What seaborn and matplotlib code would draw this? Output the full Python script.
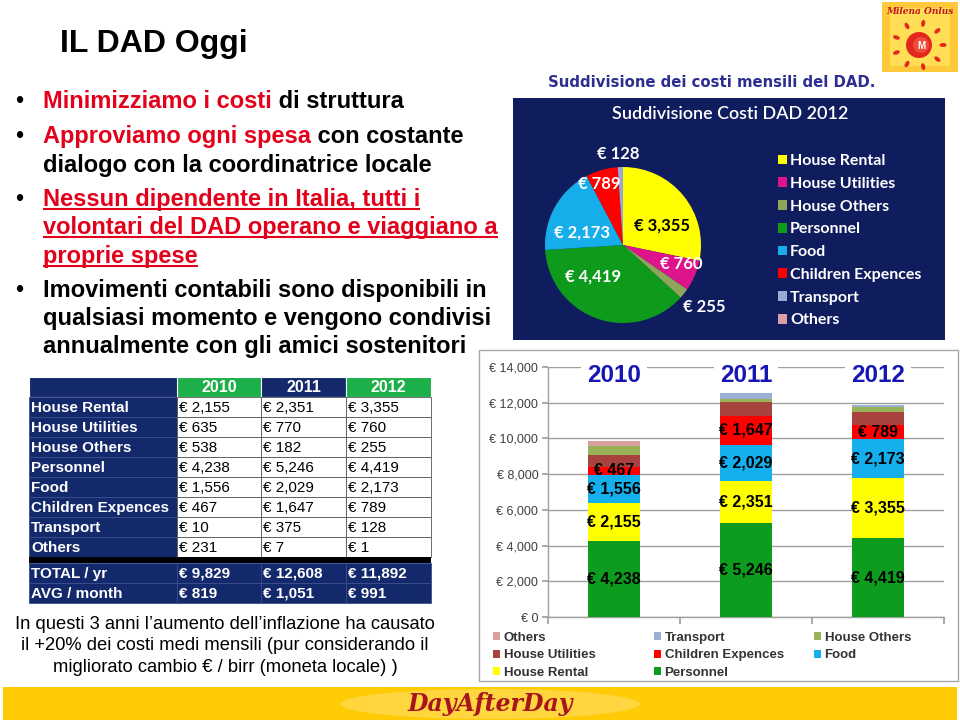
import numpy as np
import pandas as pd
import matplotlib
matplotlib.use("Agg")
import matplotlib.pyplot as plt
import seaborn as sns
from matplotlib.patches import Rectangle, Circle, Ellipse, Patch

# ---------------- data ----------------
categories = ["House Rental", "House Utilities", "House Others", "Personnel",
              "Food", "Children Expences", "Transport", "Others"]
years = ["2010", "2011", "2012"]
cost_2010 = [2155, 635, 538, 4238, 1556, 467, 10, 231]
cost_2011 = [2351, 770, 182, 5246, 2029, 1647, 375, 7]
cost_2012 = [3355, 760, 255, 4419, 2173, 789, 128, 1]
total_yr = [9829, 12608, 11892]
avg_month = [819, 1051, 991]
y_ticks = [0, 2000, 4000, 6000, 8000, 10000, 12000, 14000]
stack_order = ["Personnel", "House Rental", "Food", "Children Expences",
               "House Utilities", "House Others", "Transport", "Others"]
labelled_layers = ["Personnel", "House Rental", "Food", "Children Expences"]
legend_columns = [["Others", "House Utilities", "House Rental"],
                  ["Transport", "Children Expences", "Personnel"],
                  ["House Others", "Food"]]

# ---------------- styles ----------------
bar_colors = {"Personnel": "#0E9C1E", "House Rental": "#FFFF00", "Food": "#14AFEC",
              "Children Expences": "#FF0000", "House Utilities": "#A8423F",
              "House Others": "#98B357", "Transport": "#9AB0D5", "Others": "#D9A09E"}
pie_colors = {"House Rental": "#FFFF00", "House Utilities": "#DD148C", "House Others": "#8FA65A",
              "Personnel": "#0E9A1A", "Food": "#16AEEA", "Children Expences": "#FF0000",
              "Transport": "#9AAAD6", "Others": "#D8A0A0"}
# label placement relative to wedge: (radius factor, angle offset deg, color)
pie_label_style = {"House Rental": (0.56, -13, "black"), "House Utilities": (0.79, 5, "white"),
                   "House Others": (1.31, 1.5, "white"), "Personnel": (0.56, -24, "white"),
                   "Food": (0.55, 13, "white"), "Children Expences": (0.84, 5, "white"),
                   "Transport": (1.17, 1, "white")}
NAVY = "#14296B"
PIE_BG = "#0F1D5E"
GREEN_HDR = "#1DB04A"
RED = "#E2001A"

sns.set_theme(style="white")
plt.rcParams["font.family"] = ["Liberation Sans", "DejaVu Sans"]

W, H = 960, 720
fig = plt.figure(figsize=(9.6, 7.2), dpi=100)
fig.patch.set_facecolor("white")


def fx(x):
    return x / W


def fy(y):
    return 1 - y / H


# background axes in pixel coordinates
bg = fig.add_axes([0, 0, 1, 1])
bg.set_xlim(0, W)
bg.set_ylim(H, 0)
bg.axis("off")
renderer = fig.canvas.get_renderer()

# ---- title ----
bg.text(60, 52, "IL DAD Oggi", fontsize=23, fontweight="bold", color="black", va="baseline")

# ---- bullets ----
bullet_lines = [
    (108, True, [("Minimizziamo i costi", RED, False), (" di struttura", "black", False)]),
    (143, True, [("Approviamo ogni spesa", RED, False), (" con costante", "black", False)]),
    (172, False, [("dialogo con la coordinatrice locale", "black", False)]),
    (206, True, [("Nessun dipendente in Italia, tutti i", RED, True)]),
    (234, False, [("volontari del DAD operano e viaggiano a", RED, True)]),
    (263, False, [("proprie spese", RED, True)]),
    (297, True, [("Imovimenti contabili sono disponibili in", "black", False)]),
    (325, False, [("qualsiasi momento e vengono condivisi", "black", False)]),
    (353, False, [("annualmente con gli amici sostenitori", "black", False)]),
]
FS_B = 17
for yb, has_bullet, pieces in bullet_lines:
    if has_bullet:
        bg.text(15, yb, "•", fontsize=FS_B, color="black", va="baseline")
    x = 43
    for s, c, und in pieces:
        t = bg.text(x, yb, s, fontsize=FS_B, fontweight="bold", color=c, va="baseline")
        w = t.get_window_extent(renderer).width
        if und:
            bg.plot([x, x + w], [yb + 3, yb + 3], color=c, lw=1.5, solid_capstyle="butt")
        x += w

# ---- table ----
col_x = [29, 177, 261, 346, 431]
hdr_top, hdr_bot = 377, 397
row_h = 20
for j, yr in enumerate(years):
    fc = GREEN_HDR if j != 1 else NAVY
    bg.add_patch(Rectangle((col_x[j + 1], hdr_top), col_x[j + 2] - col_x[j + 1], hdr_bot - hdr_top,
                           facecolor=fc, edgecolor="white", lw=0.8))
    bg.text((col_x[j + 1] + col_x[j + 2]) / 2, (hdr_top + hdr_bot) / 2 + 1, yr, color="white",
            fontsize=11.5, fontweight="bold", ha="center", va="center")
bg.add_patch(Rectangle((col_x[0], hdr_top), col_x[1] - col_x[0], hdr_bot - hdr_top,
                       facecolor=NAVY, edgecolor="white", lw=0.8))
year_vals = [cost_2010, cost_2011, cost_2012]
for i, cat in enumerate(categories):
    y0 = hdr_bot + i * row_h
    bg.add_patch(Rectangle((col_x[0], y0), col_x[1] - col_x[0], row_h,
                           facecolor=NAVY, edgecolor="#3a4f8f", lw=0.6))
    bg.text(col_x[0] + 2, y0 + row_h / 2 + 1, cat, color="white", fontsize=11,
            fontweight="bold", va="center")
    for j in range(3):
        bg.add_patch(Rectangle((col_x[j + 1], y0), col_x[j + 2] - col_x[j + 1], row_h,
                               facecolor="white", edgecolor="#555555", lw=0.6))
        bg.text(col_x[j + 1] + 2, y0 + row_h / 2 + 1, f"€ {year_vals[j][i]:,}", color="black",
                fontsize=11, va="center")
sep_top = hdr_bot + len(categories) * row_h
bg.add_patch(Rectangle((col_x[0], sep_top), col_x[-1] - col_x[0], 6, facecolor="black", lw=0))
for k, (lab, vals) in enumerate([("TOTAL / yr", total_yr), ("AVG / month", avg_month)]):
    y0 = sep_top + 6 + k * row_h
    bg.add_patch(Rectangle((col_x[0], y0), col_x[-1] - col_x[0], row_h, facecolor=NAVY,
                           edgecolor="#3a4f8f", lw=0.6))
    bg.text(col_x[0] + 2, y0 + row_h / 2 + 1, lab, color="white", fontsize=11,
            fontweight="bold", va="center")
    for j in range(3):
        bg.plot([col_x[j + 1], col_x[j + 1]], [y0, y0 + row_h], color="#3a4f8f", lw=0.6)
        bg.text(col_x[j + 1] + 2, y0 + row_h / 2 + 1, f"€ {vals[j]:,}", color="white",
                fontsize=11, fontweight="bold", va="center")

# ---- caption ----
caption = ["In questi 3 anni l\u2019aumento dell\u2019inflazione ha causato",
           "il +20% dei costi medi mensili (pur considerando il",
           "migliorato cambio € / birr (moneta locale) )"]
for k, line in enumerate(caption):
    bg.text(225, 629 + k * 21.5, line, fontsize=13.2, color="black", ha="center", va="baseline")

# ---- pie section ----
bg.text(548, 87, "Suddivisione dei costi mensili del DAD.", fontsize=10.7, fontweight="bold",
        color="#2E2E8F", va="baseline", family=["DejaVu Sans"])
bg.add_patch(Rectangle((513, 98), 432, 242, facecolor=PIE_BG, edgecolor="none"))
bg.text(730, 114, "Suddivisione Costi DAD 2012", fontsize=13, color="white", ha="center",
        va="center", family=["Lato", "DejaVu Sans"], fontweight="semibold")

# ---- bar chart frame ----
bg.add_patch(Rectangle((479, 350), 479, 331, facecolor="white", edgecolor="#A6A6A6", lw=1))

# ---- logo ----
bg.add_patch(Rectangle((882, 2), 76, 70, facecolor="#FFC93C", edgecolor="none"))
bg.add_patch(Rectangle((890, 8), 60, 58, facecolor="#FFDD55", edgecolor="none"))
bg.text(920, 11, "Milena Onlus", fontsize=6.5, color="#C0181E", ha="center", va="center",
        style="italic", fontweight="bold", family=["DejaVu Serif"])
for ang in np.arange(0, 360, 40):
    a = np.deg2rad(ang)
    bg.add_patch(Ellipse((919 + 24 * np.cos(a), 45 - 22 * np.sin(a)), 7, 4, angle=-ang,
                         facecolor="#E2281E", edgecolor="none"))
bg.add_patch(Circle((919, 45), 13, facecolor="#E2281E", edgecolor="none"))
bg.add_patch(Circle((921, 45), 8, facecolor="#F04A3A", edgecolor="none"))
bg.text(921, 46, "M", fontsize=7, color="white", fontweight="bold", ha="center", va="center")

# ---- bottom banner ----
bg.add_patch(Rectangle((3, 687), 954, 33, facecolor="#FFCB05", edgecolor="none"))
bg.add_patch(Ellipse((490, 704), 300, 30, facecolor="#FFDB55", edgecolor="none", alpha=0.7))
bg.text(490, 704, "DayAfterDay", fontsize=17, color="#A8151C", ha="center", va="center",
        style="italic", fontweight="bold", family=["DejaVu Serif"])

# ---------------- stacked bar chart (seaborn) ----------------
ax = fig.add_axes([fx(548), fy(617), fx(944) - fx(548), (617 - 367) / H])
ax.set_facecolor("none")
df = pd.DataFrame({"year": years})
for cat in categories:
    df[cat] = [v[categories.index(cat)] for v in year_vals]
cum = df[stack_order].cumsum(axis=1)
for cat in reversed(stack_order):
    sns.barplot(x=df["year"], y=cum[cat], color=bar_colors[cat], width=0.4, saturation=1,
                linewidth=0, errorbar=None, ax=ax, zorder=3)
for cat in labelled_layers:
    k = stack_order.index(cat)
    prev = cum[stack_order[k - 1]] if k > 0 else pd.Series([0] * 3)
    for i in range(3):
        ax.text(i, prev.iloc[i] + df[cat].iloc[i] / 2, f"€ {df[cat].iloc[i]:,}", ha="center",
                va="center", fontsize=11.5, fontweight="bold", color="black", zorder=5)
ax.set_ylim(0, 14000)
ax.set_xlim(-0.5, 2.5)
ax.set_yticks(y_ticks)
ax.set_yticklabels([f"€ {v:,}" for v in y_ticks], fontsize=9, color="#3F3F3F")
ax.set_xticks([-0.5, 0.5, 1.5, 2.5])
ax.set_xticklabels([])
ax.set_xlabel("")
ax.set_ylabel("")
ax.yaxis.grid(True, color="#A0A0A0", lw=1, zorder=0)
ax.set_axisbelow(True)
for s in ["top", "right"]:
    ax.spines[s].set_visible(False)
for s in ["left", "bottom"]:
    ax.spines[s].set_color("#A0A0A0")
    ax.spines[s].set_linewidth(1)
ax.tick_params(axis="y", length=4, color="#A0A0A0", pad=3, left=True)
ax.tick_params(axis="x", length=5, color="#A0A0A0", direction="out", bottom=True)
for i, yr in enumerate(years):
    ax.text(i, 13500, yr, ha="center", va="center", fontsize=17.5, fontweight="bold",
            color="#1616B4", zorder=6,
            bbox=dict(facecolor="white", edgecolor="none", pad=4))

legend_x = [493, 654, 814]
for col, xl in zip(legend_columns, legend_x):
    handles = [Patch(facecolor=bar_colors[c], edgecolor="none", label=c) for c in col]
    fig.legend(handles=handles, loc="upper left", bbox_to_anchor=(fx(xl), fy(632)),
               frameon=False, prop={"weight": "bold", "size": 9.5},
               handlelength=0.55, handleheight=0.55, handletextpad=0.25, labelspacing=0.4,
               borderpad=0, borderaxespad=0, labelcolor="#333333")

# ---------------- pie chart ----------------
pax = fig.add_axes([fx(545), fy(323), 156 / W, 156 / H])
pax.set_facecolor("none")
pie_vals = [cost_2012[categories.index(c)] for c in categories]
wedges, _ = pax.pie(pie_vals, colors=[pie_colors[c] for c in categories], startangle=90,
                    counterclock=False, radius=1, wedgeprops=dict(linewidth=0))
pax.set_xlim(-1, 1)
pax.set_ylim(-1, 1)
pax.set_aspect("equal")
for wdg, cat, v in zip(wedges, categories, pie_vals):
    if cat not in pie_label_style:
        continue
    rf, off, col = pie_label_style[cat]
    mid = np.deg2rad((wdg.theta1 + wdg.theta2) / 2 + off)
    pax.text(rf * np.cos(mid), rf * np.sin(mid), f"€ {v:,}", ha="center", va="center",
             fontsize=12, fontweight="bold", color=col, family=["Lato", "DejaVu Sans"],
             clip_on=False)
leg = pax.legend(wedges, categories, loc="upper left", bbox_to_anchor=(fx(778), fy(154)),
                 bbox_transform=fig.transFigure, frameon=False,
                 prop={"family": ["Lato", "DejaVu Sans"], "weight": "bold", "size": 11.5},
                 labelcolor="white", handlelength=0.55, handleheight=0.55, handletextpad=0.2,
                 labelspacing=0.55, borderpad=0, borderaxespad=0)

fig.savefig("out.png", dpi=100)
